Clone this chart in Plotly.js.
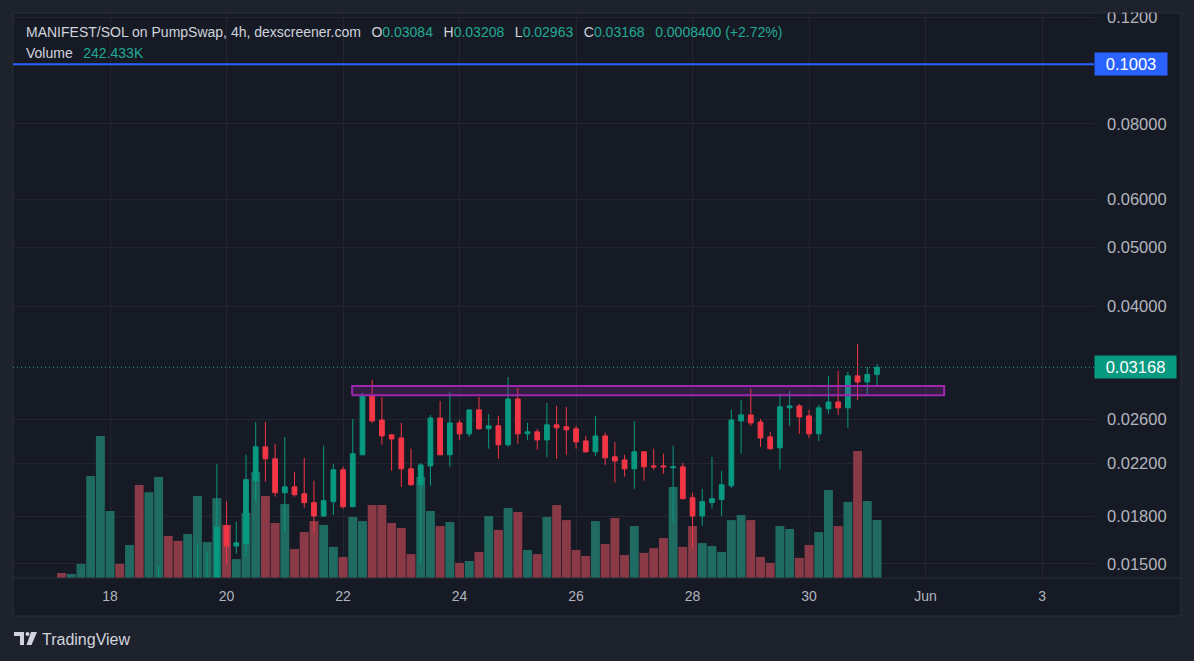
<!DOCTYPE html>
<html>
<head>
<meta charset="utf-8">
<script src="https://cdn.plot.ly/plotly-3.0.1.min.js"></script>
<style>
html,body{margin:0;padding:0;background:#1e222d;}
#chart{width:1194px;height:661px;}
</style>
</head>
<body>
<div id="chart"></div>
<script>
// ---- data (4h candles, MANIFEST/SOL) ----
const firstCandle = '2025-05-17T04:00:00Z';
const candleHours = 4;
const openP = [0.0095,0.0092,0.0096,0.0101,0.0118,0.0130,0.0133,0.0125,0.0129,0.0112,
  0.0123,0.0132,0.0124,0.0119,0.0128,0.0136,0.0139,0.01735,0.01606,0.01619,
  0.02059,0.02342,0.02237,0.01967,0.02011,0.01959,0.01894,0.01800,0.01901,0.02146,
  0.01865,0.02272,0.02842,0.02593,0.02451,0.02422,0.02154,0.02027,0.02178,0.02613,
  0.02272,0.02565,0.02460,0.02695,0.02508,0.02536,0.02360,0.02809,0.02460,0.02479,
  0.02404,0.02546,0.02527,0.02508,0.02395,0.02298,0.02441,0.02254,0.02228,0.02154,
  0.02298,0.02178,0.02178,0.02162,0.02170,0.01930,0.01800,0.01894,0.01916,0.02019,
  0.02584,0.02644,0.02574,0.02432,0.02333,0.02716,0.02736,0.02634,0.02460,0.02706,
  0.02777,0.02716,0.03067,0.02997,0.03084];
const highP = [0.0098,0.0097,0.0103,0.0125,0.0136,0.0139,0.0136,0.0133,0.0134,0.0127,
  0.0149,0.0138,0.0129,0.0133,0.0162,0.0157,0.02194,0.01905,0.01761,0.02272,
  0.02574,0.02574,0.02368,0.02432,0.02130,0.02246,0.02059,0.02351,0.02194,0.02170,
  0.02603,0.02876,0.03020,0.02831,0.02460,0.02565,0.02325,0.02202,0.02644,0.02788,
  0.02887,0.02593,0.02700,0.02831,0.02654,0.02634,0.03055,0.02931,0.02565,0.02508,
  0.02767,0.02736,0.02726,0.02536,0.02441,0.02634,0.02470,0.02386,0.02272,0.02584,
  0.02302,0.02325,0.02281,0.02351,0.02202,0.01967,0.01996,0.02254,0.02138,0.02695,
  0.02798,0.02920,0.02603,0.02479,0.02865,0.02898,0.02757,0.02695,0.02747,0.03067,
  0.03126,0.03114,0.03460,0.03173,0.03208];
const lowP = [0.0090,0.0091,0.0094,0.0099,0.0112,0.0124,0.0121,0.0122,0.0108,0.0109,
  0.0118,0.0120,0.0115,0.0117,0.0125,0.0130,0.0137,0.0150,0.01559,0.01541,
  0.01901,0.02051,0.01938,0.01690,0.01938,0.01858,0.01690,0.01795,0.01807,0.01851,
  0.01860,0.02268,0.02565,0.02360,0.02138,0.02011,0.02020,0.01506,0.02019,0.02268,
  0.02170,0.02404,0.02432,0.02498,0.02325,0.02237,0.02342,0.02368,0.02404,0.02316,
  0.02254,0.02237,0.02272,0.02325,0.02290,0.02263,0.02186,0.02043,0.02091,0.01996,
  0.02059,0.02146,0.02114,0.01761,0.01916,0.01594,0.01735,0.01851,0.01800,0.02003,
  0.02281,0.02536,0.02342,0.02316,0.02146,0.02536,0.02460,0.02422,0.02395,0.02654,
  0.02644,0.02517,0.02798,0.02853,0.02963];
const closeP = [0.0092,0.0096,0.0101,0.0118,0.0130,0.0133,0.0125,0.0129,0.0112,0.0123,
  0.0132,0.0124,0.0119,0.0128,0.0136,0.0139,0.01723,0.01606,0.01626,0.02067,
  0.02342,0.02237,0.01967,0.02011,0.01952,0.01894,0.01800,0.01909,0.02146,0.01865,
  0.02281,0.02842,0.02584,0.02441,0.02413,0.02154,0.02027,0.02186,0.02613,0.02272,
  0.02565,0.02460,0.02695,0.02508,0.02536,0.02360,0.02809,0.02460,0.02479,0.02404,
  0.02546,0.02517,0.02498,0.02386,0.02298,0.02441,0.02246,0.02219,0.02154,0.02298,
  0.02170,0.02170,0.02170,0.02170,0.01923,0.01800,0.01901,0.01923,0.02027,0.02593,
  0.02644,0.02565,0.02422,0.02325,0.02726,0.02736,0.02624,0.02460,0.02716,0.02777,
  0.02716,0.03067,0.02997,0.03084,0.03168];
const volumeK = [21,17,59,426,594,280,59,138,389,359,
  422,176,155,184,343,150,334,222,79,272,
  443,343,230,309,121,192,238,222,130,88,
  255,238,305,305,230,209,100,422,280,217,
  234,63,71,109,259,201,293,276,117,100,
  255,305,242,117,92,238,142,251,96,217,
  105,125,167,380,130,217,146,134,109,242,
  263,242,88,63,217,205,84,138,192,368,
  217,318,531,322,242.433];

const dateTickVals = ['2025-05-18','2025-05-20','2025-05-22','2025-05-24','2025-05-26','2025-05-28','2025-05-30','2025-06-01','2025-06-03'];
const dateTickText = ['18','20','22','24','26','28','30','Jun','3'];
const priceTickVals = [0.12,0.08,0.06,0.05,0.04,0.026,0.022,0.018,0.015];
const priceTickText = ['0.1200','0.08000','0.06000','0.05000','0.04000','0.02600','0.02200','0.01800','0.01500'];
const alertLevel = 0.1003;
const zonePrices = [0.0285, 0.0295];
const zoneDates = ['2025-05-22 03:45', '2025-06-01 07:40'];
const xRange = ['2025-05-16 08:00', '2025-06-03 21:25'];
const priceRange = [0.01422, 0.1219];

// ---- build ----
const n = closeP.length;
const t0 = Date.parse(firstCandle);
const times = [];
for (let i = 0; i < n; i++) {
  times.push(new Date(t0 + i * candleHours * 3600e3).toISOString().slice(0, 16).replace('T', ' '));
}
const UP = '#089981', DOWN = '#f23645';
const VUP = '#1f6a61', VDOWN = '#8a3946';
const volColors = closeP.map((c, i) => c >= openP[i] ? VUP : VDOWN);
const volume = volumeK.map(v => v * 1000);
const lastPrice = closeP[n - 1];

const W = 1194, H = 661, ML = 13, MR = 100, MT = 13, MB = 83;
const PW = W - ML - MR, PH = H - MT - MB;
const px = p => (p - ML) / PW;
const py = p => (H - MB - p) / PH;

const traces = [
  {
    type: 'bar', x: times, y: volume, xaxis: 'x', yaxis: 'y',
    marker: {color: volColors, line: {width: 0}}, hoverinfo: 'skip', showlegend: false
  },
  {
    type: 'scatter', mode: 'lines', x: xRange, y: [alertLevel, alertLevel],
    xaxis: 'x', yaxis: 'y2', line: {color: '#2962ff', width: 2}, hoverinfo: 'skip', showlegend: false
  },
  {
    type: 'scatter', mode: 'lines', x: xRange, y: [lastPrice, lastPrice],
    xaxis: 'x', yaxis: 'y2', line: {color: '#0fae93', width: 1, dash: '1px,3px'}, hoverinfo: 'skip', showlegend: false
  },
  {
    type: 'candlestick', x: times, open: openP, high: highP, low: lowP, close: closeP,
    xaxis: 'x', yaxis: 'y2', whiskerwidth: 0,
    increasing: {line: {color: UP, width: 1}, fillcolor: UP},
    decreasing: {line: {color: DOWN, width: 1}, fillcolor: DOWN},
    hoverinfo: 'skip', showlegend: false
  },
  {
    type: 'scatter', mode: 'lines', fill: 'toself',
    x: [zoneDates[0], zoneDates[1], zoneDates[1], zoneDates[0], zoneDates[0]],
    y: [zonePrices[0], zonePrices[0], zonePrices[1], zonePrices[1], zonePrices[0]],
    xaxis: 'x', yaxis: 'y2', line: {color: '#9c27b0', width: 2},
    fillcolor: 'rgba(156,39,176,0.22)', hoverinfo: 'skip', showlegend: false
  }
];

const FONT = 'Liberation Sans, Arial, sans-serif';
const GRAY = '#d1d4dc', GREEN = '#22ab94';
const sp = '\u00a0\u00a0\u2009';
const g = s => '<span style="color:' + GREEN + '">' + s + '</span>';
const change = closeP[n - 1] - closeP[n - 2];
const pct = change / closeP[n - 2] * 100;
const line1 = 'MANIFEST/SOL on PumpSwap, 4h, dexscreener.com' + sp +
  'O' + g(openP[n - 1].toFixed(5)) + sp + 'H' + g(highP[n - 1].toFixed(5)) + sp +
  'L' + g(lowP[n - 1].toFixed(5)) + sp + 'C' + g(closeP[n - 1].toFixed(5)) + sp +
  g(change.toFixed(7) + ' (' + (pct >= 0 ? '+' : '') + pct.toFixed(2) + '%)');
const line2 = 'Volume' + sp + g(volumeK[n - 1].toFixed(3) + 'K');

const logoPath = (pts) => 'M' + pts.map(p => px(p[0]) + ',' + py(p[1])).join(' L') + ' Z';

const layout = {
  width: W, height: H,
  margin: {l: ML, r: MR, t: MT, b: MB, pad: 0},
  paper_bgcolor: '#1e222d',
  plot_bgcolor: '#161a25',
  font: {family: FONT, color: '#b2b5be', size: 13},
  showlegend: false,
  bargap: 0.08,
  xaxis: {
    type: 'date', range: xRange, tickvals: dateTickVals, ticktext: dateTickText,
    showgrid: true, gridcolor: '#232632', gridwidth: 1, zeroline: false, showline: false,
    ticks: '', ticklabelstandoff: 8, tickfont: {size: 14, color: '#b2b5be'},
    rangeslider: {visible: false}, fixedrange: true
  },
  yaxis: {
    range: [0, 2362000], visible: false, showgrid: false, zeroline: false, fixedrange: true
  },
  yaxis2: {
    type: 'log', overlaying: 'y', side: 'right', anchor: 'x',
    range: [Math.log10(priceRange[0]), Math.log10(priceRange[1])],
    tickvals: priceTickVals, ticktext: priceTickText,
    showgrid: true, gridcolor: '#232632', zeroline: false, showline: false,
    ticks: '', ticklabelstandoff: 12, tickfont: {size: 16.5, color: '#b2b5be'}, fixedrange: true
  },
  shapes: [
    {type: 'rect', xref: 'paper', yref: 'paper', x0: px(13), x1: px(1181), y0: py(616), y1: py(13),
     fillcolor: '#161a25', line: {color: '#2a2e39', width: 1}, layer: 'below'},
    {type: 'line', xref: 'paper', yref: 'paper', x0: px(13), x1: px(1181), y0: py(578), y1: py(578),
     line: {color: '#2a2e39', width: 1}},
    {type: 'rect', xref: 'paper', yref: 'paper', x0: px(1094), x1: px(1194), y0: py(12.5), y1: py(0),
     fillcolor: '#1e222d', line: {width: 0}, layer: 'above'},
    {type: 'path', xref: 'paper', yref: 'paper', layer: 'above',
     path: logoPath([[14, 632], [24, 632], [24, 645], [20, 645], [20, 636], [14, 636]]),
     fillcolor: '#d1d4dc', line: {width: 0}},
    {type: 'circle', xref: 'paper', yref: 'paper', x0: px(25.5), x1: px(29.5), y0: py(636), y1: py(632),
     fillcolor: '#d1d4dc', line: {width: 0}},
    {type: 'path', xref: 'paper', yref: 'paper',
     path: logoPath([[31, 632], [37, 632], [31.5, 645], [26.5, 645]]),
     fillcolor: '#d1d4dc', line: {width: 0}}
  ],
  annotations: [
    {xref: 'paper', yref: 'paper', x: px(24), y: py(32), xanchor: 'left', yanchor: 'middle',
     text: line1, showarrow: false, font: {family: FONT, size: 14, color: GRAY}},
    {xref: 'paper', yref: 'paper', x: px(24), y: py(53), xanchor: 'left', yanchor: 'middle',
     text: line2, showarrow: false, font: {family: FONT, size: 14, color: GRAY}},
    {xref: 'paper', yref: 'y2', x: 1, y: Math.log10(alertLevel), xanchor: 'left', yanchor: 'middle',
     text: String(alertLevel), showarrow: false, bgcolor: '#2962ff', width: 68, height: 18, borderpad: 2,
     align: 'center', font: {family: FONT, size: 16.5, color: '#ffffff'}},
    {xref: 'paper', yref: 'y2', x: 1, y: Math.log10(lastPrice), xanchor: 'left', yanchor: 'middle',
     text: lastPrice.toFixed(5), showarrow: false, bgcolor: UP, width: 77, height: 18, borderpad: 2,
     align: 'center', font: {family: FONT, size: 16.5, color: '#ffffff'}},
    {xref: 'paper', yref: 'paper', x: px(40), y: py(639), xanchor: 'left', yanchor: 'middle',
     text: 'TradingView', showarrow: false, font: {family: FONT, size: 16, color: GRAY}}
  ]
};

Plotly.newPlot('chart', traces, layout, {staticPlot: true, displayModeBar: false});
</script>
</body>
</html>
